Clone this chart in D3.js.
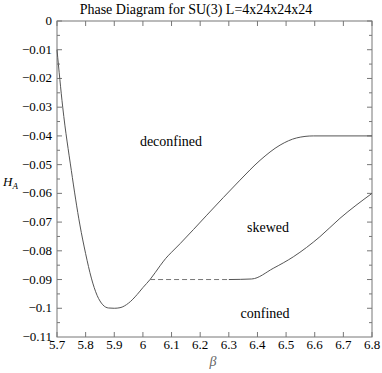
<!DOCTYPE html>
<html>
<head>
<meta charset="utf-8">
<script src="https://cdn.jsdelivr.net/npm/d3@7"></script>
<style>
  body { margin: 0; background: #fff; }
  text { font-family: "Liberation Serif", "DejaVu Serif", serif; }
</style>
</head>
<body>
<script>
var width = 382, height = 373;
var margin = {top: 21, right: 10, bottom: 36, left: 57};

// tick values
var xTicks = [5.7, 5.8, 5.9, 6.0, 6.1, 6.2, 6.3, 6.4, 6.5, 6.6, 6.7, 6.8];
var yTicks = [0, -0.01, -0.02, -0.03, -0.04, -0.05, -0.06, -0.07, -0.08, -0.09, -0.1, -0.11];

// confined/deconfined boundary, then deconfined/skewed boundary (one line)
var upperBeta = [5.7, 5.72, 5.75, 5.78, 5.80, 5.82, 5.84, 5.86, 5.88, 5.90, 5.92, 5.95, 5.98, 6.0, 6.025, 6.06, 6.08, 6.1,
                 6.13, 6.223, 6.339, 6.409, 6.479, 6.537, 6.595, 6.8];
var upperH    = [-0.01, -0.03, -0.052, -0.071, -0.081, -0.0895, -0.0955, -0.0988, -0.0999, -0.1, -0.0998, -0.0982, -0.0952, -0.0928, -0.09, -0.0852, -0.0826, -0.0805,
                 -0.0775, -0.0676, -0.0554, -0.0485, -0.0432, -0.0407, -0.04, -0.04];

// dashed segment
var dashBeta = [6.025, 6.3];
var dashH    = [-0.09, -0.09];

// lower boundary (skewed/confined)
var lowerBeta = [6.3, 6.38, 6.455, 6.525, 6.618, 6.688, 6.8];
var lowerH    = [-0.09, -0.0898, -0.0861, -0.0821, -0.0751, -0.0687, -0.06];

var svg = d3.select("body").append("svg")
    .attr("width", width)
    .attr("height", height);

var x = d3.scaleLinear().domain([5.7, 6.8]).range([margin.left, width - margin.right]);
var y = d3.scaleLinear().domain([0, -0.11]).range([margin.top, height - margin.bottom]);

var frame = "#777";

// ticks, inward on all four sides
var g = svg.append("g");
xTicks.forEach(function(t) {
  g.append("line").attr("x1", x(t)).attr("x2", x(t))
    .attr("y1", y(-0.11)).attr("y2", y(-0.11) - 5).attr("stroke", frame);
  g.append("line").attr("x1", x(t)).attr("x2", x(t))
    .attr("y1", y(0)).attr("y2", y(0) + 5).attr("stroke", frame);
});
var yMinor = d3.range(0, 22).map(function(i) { return -0.005 * i; });
yMinor.forEach(function(t, i) {
  var len = (i % 2 == 0) ? 5 : 3;
  g.append("line").attr("x1", x(5.7)).attr("x2", x(5.7) + len)
    .attr("y1", y(t)).attr("y2", y(t)).attr("stroke", frame);
  g.append("line").attr("x1", x(6.8)).attr("x2", x(6.8) - len)
    .attr("y1", y(t)).attr("y2", y(t)).attr("stroke", frame);
});

svg.append("rect")
    .attr("x", x(5.7)).attr("y", y(0))
    .attr("width", x(6.8) - x(5.7)).attr("height", y(-0.11) - y(0))
    .attr("fill", "none").attr("stroke", frame);

// tick labels
svg.selectAll(".xl").data(xTicks).enter().append("text")
    .attr("x", function(d) { return x(d); })
    .attr("y", y(-0.11) + 12)
    .attr("text-anchor", "middle")
    .attr("font-size", "13px")
    .text(function(d) { return d3.format("~g")(d); });

svg.selectAll(".yl").data(yTicks).enter().append("text")
    .attr("x", x(5.7) - 5)
    .attr("y", function(d) { return y(d) + 4; })
    .attr("text-anchor", "end")
    .attr("font-size", "13px")
    .text(function(d) { return d == 0 ? "0" : d3.format("~g")(d); });

// curves
var line = d3.line().curve(d3.curveMonotoneX)
    .x(function(d) { return x(d[0]); })
    .y(function(d) { return y(d[1]); });

function pairs(a, b) { return a.map(function(v, i) { return [v, b[i]]; }); }

svg.append("path").attr("d", line(pairs(upperBeta, upperH)))
    .attr("fill", "none").attr("stroke", "#555").attr("stroke-width", 1);
svg.append("path").attr("d", line(pairs(lowerBeta, lowerH)))
    .attr("fill", "none").attr("stroke", "#555").attr("stroke-width", 1);
svg.append("path").attr("d", line(pairs(dashBeta, dashH)))
    .attr("fill", "none").attr("stroke", "#777").attr("stroke-width", 1)
    .attr("stroke-dasharray", "5,3");

// region labels
svg.append("text").attr("x", 171).attr("y", 146).attr("text-anchor", "middle")
    .attr("font-size", "14px").text("deconfined");
svg.append("text").attr("x", 268).attr("y", 232).attr("text-anchor", "middle")
    .attr("font-size", "14px").text("skewed");
svg.append("text").attr("x", 265).attr("y", 318).attr("text-anchor", "middle")
    .attr("font-size", "14px").text("confined");

// title and axis labels
svg.append("text").attr("x", 196).attr("y", 14).attr("text-anchor", "middle")
    .attr("font-size", "14px").text("Phase Diagram for SU(3) L=4x24x24x24");

var hl = svg.append("text").attr("x", 3).attr("y", 186)
    .attr("font-size", "13px").attr("font-style", "italic");
hl.append("tspan").text("H");
hl.append("tspan").attr("font-size", "9px").attr("dy", 3).text("A");

svg.append("text").attr("x", 213).attr("y", 366).attr("text-anchor", "middle")
    .attr("font-size", "14px").attr("font-style", "italic").attr("fill", "#666")
    .text("β");
</script>
</body>
</html>
